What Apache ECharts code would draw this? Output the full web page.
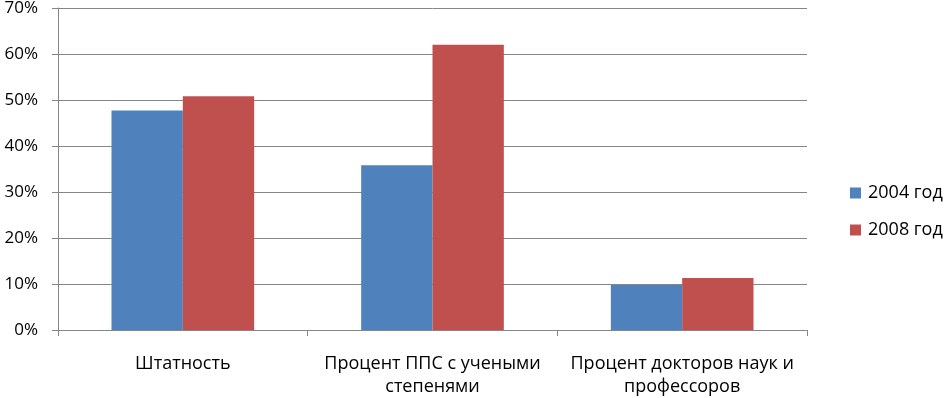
<!DOCTYPE html>
<html>
<head>
<meta charset="utf-8">
<script src="https://cdn.jsdelivr.net/npm/echarts@6/dist/echarts.min.js"></script>
<style>
html, body { margin: 0; padding: 0; background: #fff; }
#chart { width: 947px; height: 398px; }
</style>
</head>
<body>
<div id="chart"></div>
<script>
const categories = ['Штатность', 'Процент ППС с учеными степенями', 'Процент докторов наук и профессоров']
const seriesNames = ['2004 год', '2008 год']
const values2004 = [47.7, 35.8, 9.8]
const values2008 = [50.8, 62.0, 11.3]
const yTicks = [0, 10, 20, 30, 40, 50, 60, 70]

const font = 'Open Sans'
const chart = echarts.init(document.getElementById('chart'), null, { renderer: 'canvas' })

// wrap a category name into lines of at most 23 characters
function wrapLabel (text) {
  const words = text.split(' ')
  const lines = []
  let cur = ''
  words.forEach((w) => {
    const next = cur ? cur + ' ' + w : w
    if (next.length > 23 && cur) {
      lines.push(cur)
      cur = w
    } else {
      cur = next
    }
  })
  lines.push(cur)
  return lines.join('\n')
}

const option = {
  animation: false,
  textStyle: { fontFamily: font },
  grid: { left: 58, right: 140, top: 8, bottom: 68, outerBoundsMode: 'none' },
  legend: {
    orient: 'vertical',
    left: 845,
    top: 179,
    itemWidth: 11,
    itemHeight: 11,
    itemGap: 19,
    icon: 'rect',
    textStyle: { fontFamily: font, fontSize: 18, color: '#000', padding: [0, 0, 0, 2] },
    data: seriesNames
  },
  xAxis: {
    type: 'category',
    data: categories,
    axisLine: { lineStyle: { color: '#868686' } },
    axisTick: { show: true, length: 6, lineStyle: { color: '#868686' } },
    axisLabel: {
      color: '#000',
      fontSize: 18,
      fontFamily: font,
      margin: 22,
      lineHeight: 23,
      interval: 0,
      formatter: wrapLabel
    }
  },
  yAxis: {
    type: 'value',
    min: yTicks[0],
    max: yTicks[yTicks.length - 1],
    interval: 10,
    axisLine: { show: true, lineStyle: { color: '#868686' } },
    axisTick: { show: true, length: 6, lineStyle: { color: '#868686' } },
    axisLabel: {
      color: '#000',
      fontSize: 17,
      fontFamily: font,
      margin: 20,
      formatter: (v) => v + '%'
    },
    splitLine: { lineStyle: { color: '#868686', width: 1 } }
  },
  series: [
    {
      name: seriesNames[0],
      type: 'bar',
      data: values2004,
      barGap: '0%',
      barCategoryGap: '42.86%',
      itemStyle: { color: '#4F81BD' }
    },
    {
      name: seriesNames[1],
      type: 'bar',
      data: values2008,
      barGap: '0%',
      barCategoryGap: '42.86%',
      itemStyle: { color: '#C0504D' }
    }
  ]
}
chart.setOption(option)
</script>
</body>
</html>
